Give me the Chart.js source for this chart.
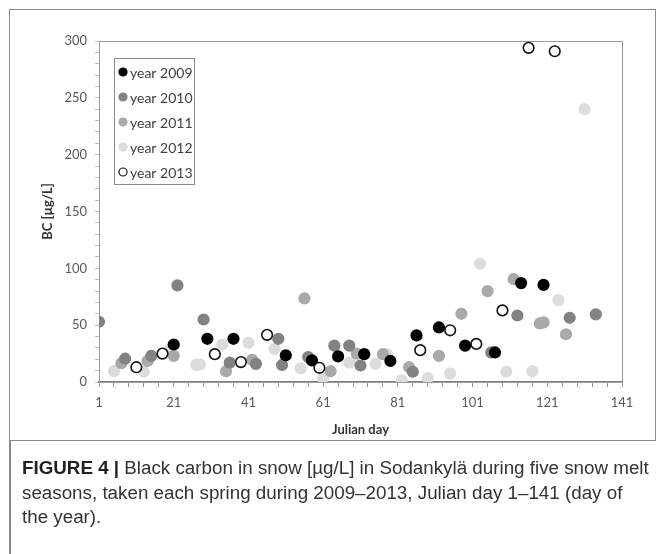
<!DOCTYPE html>
<html>
<head>
<meta charset="utf-8">
<script src="https://cdn.jsdelivr.net/npm/chart.js@4/dist/chart.umd.min.js"></script>
<style>
  html, body { margin: 0; padding: 0; background: #fff; }
  #wrap { position: relative; width: 663px; height: 554px; overflow: hidden; }
  #chart { position: absolute; left: 0; top: 0; }
  #frame {
    position: absolute; left: 9px; top: 9px; width: 647px; height: 432px;
    border: 1.5px solid #8a8a8a; box-sizing: border-box;
  }
  #leftline { position: absolute; left: 9px; top: 440px; width: 1.5px; height: 114px; background: #8a8a8a; }
  #caption {
    position: absolute; left: 22px; top: 456px; width: 640px;
    font-family: "Liberation Sans", Arial, sans-serif; font-size: 18.8px;
    line-height: 24.5px; color: #333; white-space: nowrap;
  }
  #caption b { color: #222; }
</style>
</head>
<body>
<div id="wrap">
  <canvas id="chart" width="663" height="554"></canvas>
  <div id="frame"></div>
  <div id="leftline"></div>
  <div id="caption"><b>FIGURE 4 |</b> Black carbon in snow [µg/L] in Sodankylä during five snow melt<br>seasons, taken each spring during 2009–2013, Julian day 1–141 (day of<br>the year).</div>
</div>
<script>
/* =========================
   DADOS
========================= */

const years = ["year 2009", "year 2010", "year 2011", "year 2012", "year 2013"];

const day2009 = [21, 30, 37, 51, 58, 65, 72, 79, 86, 92, 99, 107, 114, 120];
const bc2009  = [33, 38, 38, 23.5, 19, 22.5, 24.5, 18.5, 41, 48, 32, 26, 87, 85.5];

const day2010 = [1, 8, 15, 22, 29, 36, 43, 49, 50, 57, 64, 68, 71, 85, 106, 113, 127, 134];
const bc2010  = [53, 20.5, 23, 85, 55, 17, 16, 38, 15, 22, 32, 32, 14.5, 9, 26, 58.5, 56.5, 59.5];

const day2011 = [7, 14, 21, 35, 42, 56, 63, 70, 77, 84, 92, 98, 105, 112, 119, 120, 126];
const bc2011  = [16.5, 18.5, 23, 9.5, 19.5, 73.5, 9.5, 25, 24.5, 13, 23, 60, 80, 90.5, 51.5, 52.5, 42];

const day2012 = [5, 13, 20, 27, 28, 34, 41, 48, 55, 61, 68, 75, 78, 82, 89, 95, 103, 110, 117, 124, 131];
const bc2012  = [9.5, 9, 28.5, 15, 15.5, 33, 34.5, 29, 12, 3.5, 17, 16, 24.5, 1.5, 3.5, 7.5, 104, 9, 9.5, 72, 240];

const day2013 = [11, 18, 32, 39, 46, 60, 87, 95, 102, 109, 116, 123];
const bc2013  = [13, 25, 24.5, 17.5, 41.5, 12.5, 28, 45.5, 33.5, 63, 294, 291];

const xLabels = [1, 21, 41, 61, 81, 101, 121, 141];
const yLabels = [0, 50, 100, 150, 200, 250, 300];

/* =========================
   HELPERS
========================= */

function pts(xs, ys) {
  return xs.map((x, i) => ({ x: x, y: ys[i] }));
}

function serie(label, xs, ys, fill, border) {
  return {
    label: label,
    data: pts(xs, ys),
    backgroundColor: fill,
    borderColor: border,
    borderWidth: 1.6,
    pointRadius: 5.3,
    pointHoverRadius: 5.3
  };
}

// legenda dentro do grafico (estilo Excel)
const legendBox = {
  id: "legendBox",
  afterDraw(chart) {
    const ctx = chart.ctx;
    const ds = chart.data.datasets;
    ctx.save();
    ctx.strokeStyle = "#8c8c8c";
    ctx.lineWidth = 1;
    ctx.strokeRect(114.5, 58.5, 80, 126);
    ctx.font = "14px Lato";
    ctx.textBaseline = "middle";
    years.forEach((name, i) => {
      const d = ds.find(s => s.label === name);
      const y = 72 + i * 25;
      ctx.beginPath();
      ctx.arc(123, y, 4, 0, Math.PI * 2);
      ctx.fillStyle = d.backgroundColor;
      ctx.fill();
      ctx.lineWidth = 1.2;
      ctx.strokeStyle = d.borderColor;
      ctx.stroke();
      ctx.fillStyle = "#404040";
      ctx.fillText(name, 130, y + 1);
    });
    ctx.restore();
  }
};

// borda da area do grafico
const plotBorder = {
  id: "plotBorder",
  beforeDatasetsDraw(chart) {
    const a = chart.chartArea;
    const ctx = chart.ctx;
    ctx.save();
    ctx.strokeStyle = "#9a9a9a";
    ctx.lineWidth = 1;
    ctx.strokeRect(a.left + 0.5, a.top + 0.5, a.right - a.left, a.bottom - a.top);
    ctx.restore();
  }
};

/* =========================
   CHART
========================= */

const canvas = document.getElementById("chart");

new Chart(canvas, {
  type: "scatter",
  data: {
    datasets: [
      serie(years[4], day2013, bc2013, "#ffffff", "#111111"),
      serie(years[0], day2009, bc2009, "#000000", "#000000"),
      serie(years[1], day2010, bc2010, "#828282", "#828282"),
      serie(years[2], day2011, bc2011, "#a9a9a9", "#a9a9a9"),
      serie(years[3], day2012, bc2012, "#dcdcdc", "#dcdcdc")
    ]
  },
  options: {
    responsive: false,
    animation: false,
    layout: { padding: { left: 0, top: 41, right: 41, bottom: 112 } },
    plugins: {
      legend: { display: false },
      tooltip: { enabled: false }
    },
    scales: {
      x: {
        type: "linear",
        min: 1,
        max: 141,
        afterFit: s => { s.height = 60; },
        ticks: {
          stepSize: 4,
          autoSkip: false,
          maxRotation: 0,
          padding: 8,
          color: "#595959",
          font: { family: "Lato", size: 13 },
          callback: v => (xLabels.includes(v) ? String(v) : "")
        },
        grid: { drawOnChartArea: false, drawTicks: true, tickLength: 5, color: "#9a9a9a" },
        border: { display: true, color: "#808080", width: 1.5 },
        title: {
          display: true,
          text: "Julian day",
          color: "#333",
          font: { family: "Lato", size: 13, weight: "bold" },
          padding: { top: 6 }
        }
      },
      y: {
        min: 0,
        max: 300,
        afterFit: s => { s.width = 99; },
        ticks: {
          stepSize: 10,
          autoSkip: false,
          padding: 8,
          color: "#595959",
          font: { family: "Lato", size: 13 },
          callback: v => (yLabels.includes(v) ? String(v) : "")
        },
        grid: { drawOnChartArea: false, drawTicks: true, tickLength: 4, color: "#bdbdbd" },
        border: { display: true, color: "#9a9a9a", width: 1 },
        title: {
          display: true,
          text: "BC [µg/L]",
          color: "#333",
          font: { family: "Lato", size: 13, weight: "bold" },
          padding: { top: 40 }
        }
      }
    }
  },
  plugins: [plotBorder, legendBox]
});
</script>
</body>
</html>
